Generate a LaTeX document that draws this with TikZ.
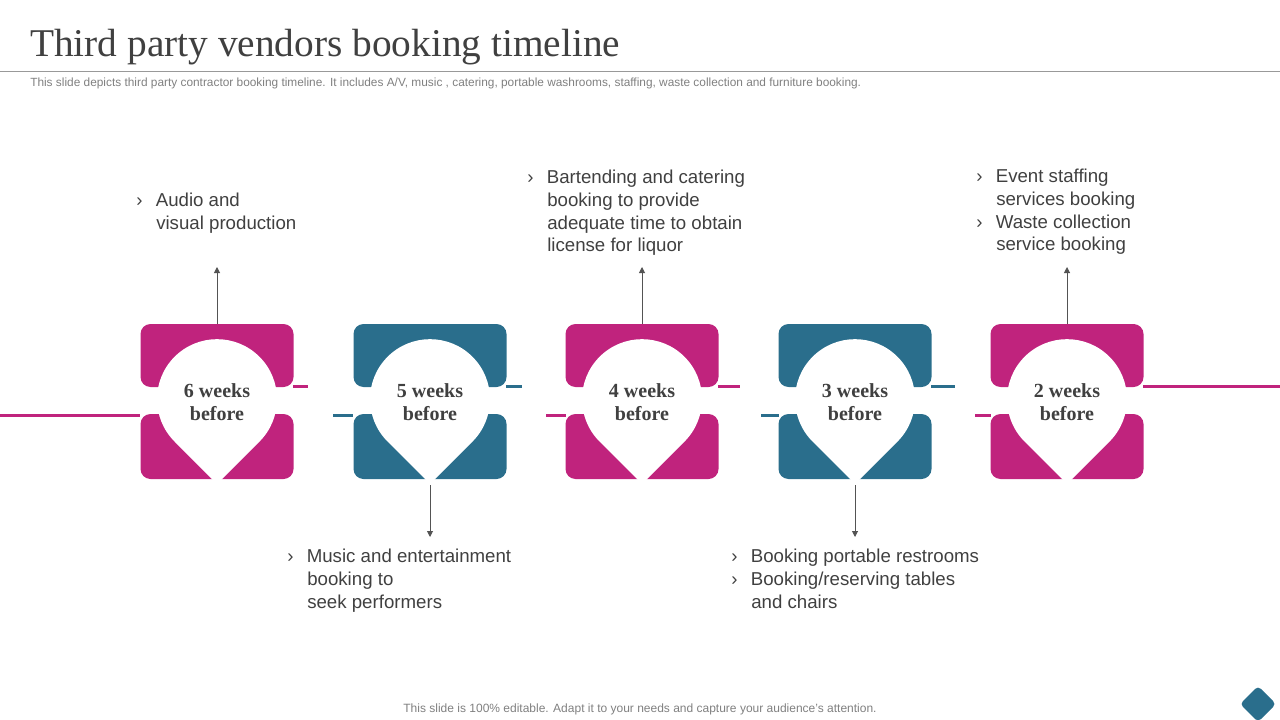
\documentclass[tikz,border=0pt]{standalone}
\usepackage{fontspec}
\setmainfont{Liberation Sans}
\newfontfamily\serifT{Liberation Serif}
\usetikzlibrary{arrows.meta}
\definecolor{mag}{HTML}{C0237D}
\definecolor{teal}{HTML}{2A6E8C}
\definecolor{txt}{HTML}{404040}
\tikzset{
  halfbox/.style={rounded corners=7.5pt},
  conn/.style={line width=2.25pt},
  arr/.style={draw=txt!90,line width=0.7pt,-{Triangle[length=4.5pt,width=4.5pt]}},
  desc/.style={anchor=north west,align=left,text=txt,font=\fontsize{14}{17}\selectfont,inner sep=0pt},
  wk/.style={align=center,text=txt,font=\serifT\bfseries\fontsize{15}{17.5}\selectfont}
}
\newcommand{\stage}[3]{% x, colour, name
  \fill[#2,halfbox] (#1-76.5,324) rectangle (#1+76.5,387);
  \fill[#2,halfbox] (#1-76.5,414) rectangle (#1+76.5,479);
  \fill[white] (#1,484) -- (#1-42.4,441.6) arc[start angle=135,end angle=405,radius=60] -- cycle;
  \coordinate (#3top) at (#1,324);
  \coordinate (#3bot) at (#1,485);
}
\begin{document}
\begin{tikzpicture}[x=0.75pt,y=-0.75pt]
\useasboundingbox (0,0) rectangle (1280,720);
\node[anchor=base west,inner sep=0pt,text=txt,font=\serifT\fontsize{29.5}{32}\selectfont] (title) at (30,57) {Third party vendors booking timeline};
\draw[gray!80,line width=0.75pt] (0,72) -- (1280,72);
\node[anchor=base west,inner sep=0pt,text=gray,font=\fontsize{8.9}{10}\selectfont] (sub) at (30,87) {This slide depicts third party contractor booking timeline. It includes A/V,  music , catering, portable washrooms, staffing, waste collection and furniture booking.};
% connectors
\draw[conn,mag] (0,415) -- (140,415);
\draw[conn,mag] (293,386) -- (308,386);
\draw[conn,teal] (333,415) -- (353,415);
\draw[conn,teal] (506,386) -- (522,386);
\draw[conn,mag] (546,415) -- (566,415);
\draw[conn,mag] (718,386) -- (740,386);
\draw[conn,teal] (761,415) -- (779,415);
\draw[conn,teal] (931,386) -- (955,386);
\draw[conn,mag] (975,415) -- (991,415);
\draw[conn,mag] (1143,386) -- (1280,386);
\stage{217}{mag}{s1}
\stage{430}{teal}{s2}
\stage{642}{mag}{s3}
\stage{855}{teal}{s4}
\stage{1067}{mag}{s5}
\node[wk] (w1) at (217,402) {6 weeks\\before};
\node[wk] (w2) at (430,402) {5 weeks\\before};
\node[wk] (w3) at (642,402) {4 weeks\\before};
\node[wk] (w4) at (855,402) {3 weeks\\before};
\node[wk] (w5) at (1067,402) {2 weeks\\before};
% arrows
\coordinate (a1) at (217,267);
\coordinate (a3) at (642,267);
\coordinate (a5) at (1067,267);
\coordinate (a2) at (430,537);
\coordinate (a4) at (855,537);
\draw[arr] (s1top) -- (a1);
\draw[arr] (s3top) -- (a3);
\draw[arr] (s5top) -- (a5);
\draw[arr] (s2bot) -- (a2);
\draw[arr] (s4bot) -- (a4);
% descriptions
\node[desc] (d1) at (136,193) {›\hspace{10pt}Audio and\\\hspace{15pt}visual production};
\node[desc] (d3) at (527,170) {›\hspace{10pt}Bartending and catering\\\hspace{15pt}booking to provide\\\hspace{15pt}adequate time to obtain\\\hspace{15pt}license for liquor};
\node[desc] (d5) at (976,169) {›\hspace{10pt}Event staffing\\\hspace{15pt}services booking\\›\hspace{10pt}Waste collection\\\hspace{15pt}service booking};
\node[desc] (d2) at (287,549) {›\hspace{10pt}Music and entertainment\\\hspace{15pt}booking to\\\hspace{15pt}seek performers};
\node[desc] (d4) at (731,549) {›\hspace{10pt}Booking portable restrooms\\›\hspace{10pt}Booking/reserving tables\\\hspace{15pt}and chairs};
\node[anchor=base,inner sep=0pt,text=gray,font=\fontsize{9}{10}\selectfont] (foot) at (640,712) {This slide is 100\% editable. Adapt it to your needs and capture your audience's attention.};
\fill[teal,rounded corners=3pt] (1258,686) -- (1276,704) -- (1258,722) -- (1240,704) -- cycle;
\end{tikzpicture}
\end{document}
